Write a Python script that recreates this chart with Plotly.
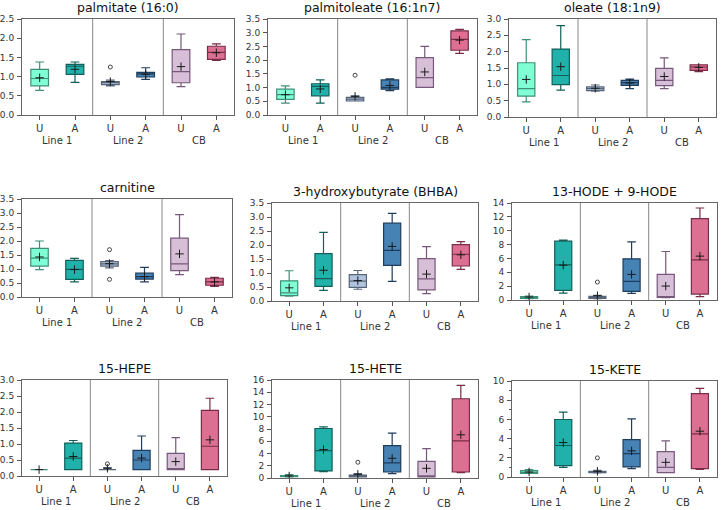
import plotly.graph_objects as go

titles = ["palmitate (16:0)", "palmitoleate (16:1n7)", "oleate (18:1n9)",
          "carnitine", "3-hydroxybutyrate (BHBA)", "13-HODE + 9-HODE",
          "15-HEPE", "15-HETE", "15-KETE"]
groups = ["Line 1", "Line 2", "CB"]
conditions = ["U", "A", "U", "A", "U", "A"]
y_max = [2.5, 3.5, 3.0, 3.5, 3.5, 14, 3.0, 16, 10]
y_step = [0.5, 0.5, 0.5, 0.5, 0.5, 2, 0.5, 2, 2]

upper = [
    [1.38, 1.38, 0.91, 1.23, 2.11, 1.85],
    [1.06, 1.28, 0.70, 1.32, 2.50, 3.12],
    [2.37, 2.80, 0.98, 1.16, 1.81, 1.60],
    [2.00, 1.38, 1.30, 1.06, 2.94, 0.70],
    [1.08, 2.45, 1.09, 3.13, 1.94, 2.12],
    [0.58, 8.63, 0.67, 8.39, 7.00, 13.28],
    [0.20, 1.11, 0.26, 1.25, 1.20, 2.43],
    [0.55, 8.36, 0.71, 7.32, 4.81, 15.13],
    [0.77, 6.76, 0.70, 6.06, 3.76, 9.23],
]
q3 = [
    [1.19, 1.32, 0.87, 1.11, 1.70, 1.79],
    [0.94, 1.14, 0.64, 1.28, 2.09, 3.07],
    [1.66, 2.08, 0.92, 1.12, 1.49, 1.60],
    [1.74, 1.31, 1.26, 0.85, 2.10, 0.67],
    [0.72, 1.69, 0.94, 2.78, 1.51, 2.01],
    [0.48, 8.49, 0.53, 5.94, 3.69, 11.74],
    [0.20, 1.03, 0.20, 0.80, 0.71, 2.05],
    [0.38, 8.08, 0.49, 5.30, 2.73, 12.94],
    [0.66, 5.99, 0.59, 3.90, 2.65, 8.68],
]
median = [
    [0.95, 1.27, 0.84, 1.07, 1.13, 1.63],
    [0.74, 1.04, 0.58, 1.01, 1.36, 2.76],
    [0.87, 1.27, 0.87, 1.05, 1.12, 1.53],
    [1.39, 0.99, 1.18, 0.73, 1.18, 0.54],
    [0.29, 0.80, 0.71, 1.81, 0.79, 1.67],
    [0.38, 5.08, 0.43, 2.68, 0.38, 5.80],
    [0.20, 0.56, 0.20, 0.50, 0.20, 0.93],
    [0.33, 4.48, 0.33, 2.46, 0.22, 6.06],
    [0.49, 3.28, 0.52, 2.44, 1.01, 4.49],
]
q1 = [
    [0.76, 1.06, 0.79, 0.99, 0.84, 1.45],
    [0.57, 0.70, 0.51, 0.94, 1.01, 2.36],
    [0.64, 0.99, 0.81, 0.97, 0.96, 1.43],
    [1.10, 0.63, 1.10, 0.64, 0.94, 0.42],
    [0.19, 0.52, 0.49, 1.27, 0.40, 1.25],
    [0.24, 1.39, 0.24, 1.25, 0.36, 0.86],
    [0.20, 0.20, 0.20, 0.20, 0.20, 0.20],
    [0.22, 1.15, 0.16, 0.98, 0.20, 0.98],
    [0.38, 1.18, 0.45, 1.05, 0.45, 0.87],
]
lower = [
    [0.64, 0.85, 0.76, 0.93, 0.74, 1.42],
    [0.43, 0.43, 0.51, 0.89, 1.01, 2.25],
    [0.46, 0.82, 0.79, 0.87, 0.87, 1.39],
    [0.98, 0.54, 1.04, 0.54, 0.80, 0.38],
    [0.17, 0.38, 0.42, 0.70, 0.26, 1.13],
    [0.19, 1.00, 0.19, 0.96, 0.33, 0.48],
    [0.20, 0.20, 0.20, 0.20, 0.20, 0.20],
    [0.16, 1.04, 0.16, 0.71, 0.20, 0.87],
    [0.38, 1.01, 0.42, 0.87, 0.45, 0.80],
]
means = [
    [0.97, 1.19, 0.87, 1.06, 1.26, 1.62],
    [0.74, 0.95, 0.68, 1.08, 1.57, 2.73],
    [1.15, 1.54, 0.88, 1.04, 1.24, 1.52],
    [1.43, 0.98, 1.19, 0.73, 1.54, 0.54],
    [0.47, 1.10, 0.73, 1.95, 0.96, 1.65],
    [0.43, 5.03, 0.62, 3.69, 2.01, 6.33],
    [0.20, 0.61, 0.24, 0.56, 0.45, 1.13],
    [0.33, 4.64, 0.60, 3.22, 1.58, 7.05],
    [0.52, 3.59, 0.59, 2.72, 1.53, 4.77],
]
# (panel index, box index, value)
outliers = [
    (0, 2, 1.25), (1, 2, 1.45), (3, 2, 1.69), (3, 2, 0.63),
    (5, 2, 2.59), (6, 2, 0.38), (7, 2, 2.57), (8, 2, 1.99),
]

box_colors = ["#7fffd4", "#20b2aa", "#b0c4de", "#4682b4", "#d8bfd8", "#db7093"]
edge_colors = ["#3f8f78", "#125f5a", "#56657a", "#1f3d5c", "#76587a", "#7a2c48"]

# panel pixel boxes: left, right, top, bottom
panel_px = [
    (22, 234, 19, 115), (268, 477, 19, 115), (509, 716, 19, 117),
    (22, 232, 199, 297), (272, 478, 203, 301), (512, 717, 203, 300),
    (22, 227, 380, 476), (272, 478, 380, 478), (512, 717, 381, 477),
]
W, H = 724, 510
FONT = "DejaVu Sans"

fig = go.Figure()
layout = dict(
    width=W, height=H, margin=dict(l=0, r=0, t=0, b=0, autoexpand=False),
    paper_bgcolor="white", plot_bgcolor="white", showlegend=False,
    font=dict(family=FONT, color="#333"),
)
shapes = []
annotations = []
positions = [1, 2, 3, 4, 5, 6]

for p in range(9):
    n = "" if p == 0 else str(p + 1)
    xa, ya = "x" + n, "y" + n
    for b in range(6):
        fig.add_trace(go.Box(
            x=[positions[b]], q1=[q1[p][b]], median=[median[p][b]], q3=[q3[p][b]],
            lowerfence=[lower[p][b]], upperfence=[upper[p][b]],
            width=0.5, whiskerwidth=0.5, boxpoints=False,
            fillcolor=box_colors[b], line=dict(color=edge_colors[b], width=1.2),
            xaxis=xa, yaxis=ya, hoverinfo="skip",
        ))
    fig.add_trace(go.Scatter(
        x=positions, y=means[p], mode="markers",
        marker=dict(symbol="cross-thin", size=6, color="#1a1a1a",
                    line=dict(color="#1a1a1a", width=1)),
        xaxis=xa, yaxis=ya, hoverinfo="skip",
    ))
    ox = [positions[o[1]] for o in outliers if o[0] == p]
    oy = [o[2] for o in outliers if o[0] == p]
    if ox:
        fig.add_trace(go.Scatter(
            x=ox, y=oy, mode="markers",
            marker=dict(symbol="circle-open", size=4, color="#444",
                        line=dict(color="#444", width=1)),
            xaxis=xa, yaxis=ya, hoverinfo="skip",
        ))
    l, r, t, btm = panel_px[p]
    dom_x = [l / W, r / W]
    dom_y = [1 - btm / H, 1 - t / H]
    layout["xaxis" + n] = dict(
        domain=dom_x, anchor=ya, range=[0.5, 6.5], tickmode="array",
        tickvals=positions, ticktext=conditions, ticks="outside", ticklen=4,
        tickcolor="#555", showline=True, linecolor="#666", linewidth=1, mirror=True,
        showgrid=False, zeroline=False, tickfont=dict(size=10, color="#333"),
        automargin=False, fixedrange=True,
    )
    yax = dict(
        domain=dom_y, anchor=xa, range=[0, y_max[p]], dtick=y_step[p], tick0=0,
        tickformat=".1f" if y_step[p] < 1 else "d",
        ticks="outside", ticklen=4, tickcolor="#555", showline=True,
        linecolor="#666", linewidth=1, mirror=True, showgrid=False, zeroline=False,
        tickfont=dict(size=9, color="#333"), ticklabelstandoff=1,
        automargin=False, fixedrange=True,
    )
    if p == 8:
        yax["minor"] = dict(dtick=1, ticks="outside", ticklen=2, tickcolor="#555")
    layout["yaxis" + n] = yax
    for sx in (2.5, 4.5):
        shapes.append(dict(type="line", xref=xa, yref=ya + " domain",
                           x0=sx, x1=sx, y0=0, y1=1,
                           line=dict(color="#888", width=1)))
    for g in range(3):
        annotations.append(dict(
            x=2 * g + 1.5, xref=xa, y=0, yref=ya + " domain",
            xanchor="center", yanchor="top", yshift=-18, text=groups[g],
            showarrow=False, font=dict(size=10, color="#333"),
        ))
    annotations.append(dict(
        x=(dom_x[0] + dom_x[1]) / 2, xref="paper", y=dom_y[1], yref="paper",
        xanchor="center", yanchor="bottom", yshift=2, text=titles[p],
        showarrow=False, font=dict(size=12.5, color="#111"),
    ))

layout["shapes"] = shapes
layout["annotations"] = annotations
fig.update_layout(**layout)
fig.write_html(
    "out.html",
    config={"displayModeBar": False, "staticPlot": True},
    post_script="document.body.style.margin='0';document.body.style.padding='0';",
)
